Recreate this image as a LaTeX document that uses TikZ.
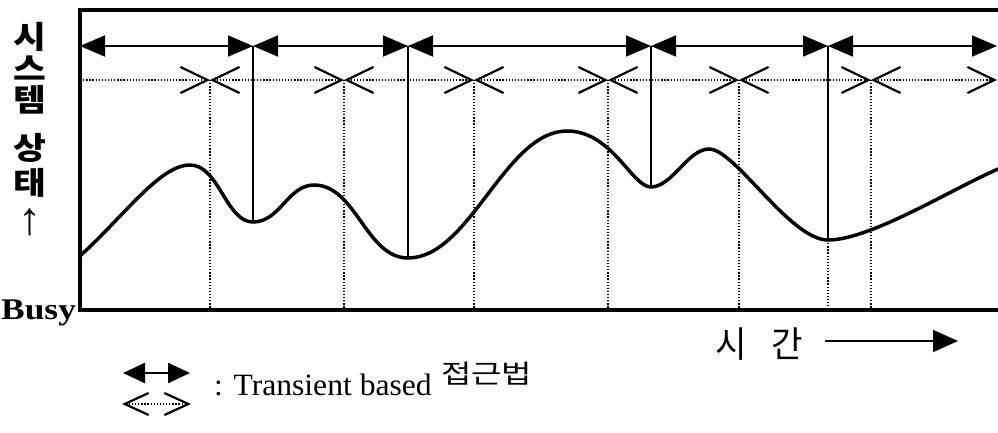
\documentclass[tikz,border=0pt]{standalone}
\usepackage{fontspec}
\setmainfont{Liberation Serif}
\newfontfamily\krsans{Noto Sans CJK KR}
\usetikzlibrary{arrows.meta}
\begin{document}
\begin{tikzpicture}[x=1pt,y=-1pt,
  frame/.style={line width=3.5pt, line join=miter},
  solidarr/.style={line width=1.8pt, {Triangle[length=25pt,width=21pt]}-{Triangle[length=25pt,width=21pt]}},
  dotline/.style={line width=1.3pt, dash pattern=on 1.3pt off 1.8pt},
  dotarr/.style={dotline, {Straight Barb[length=27pt,width=26pt,line width=2.2pt]}-{Straight Barb[length=27pt,width=26pt,line width=2.2pt]}},
  dotarrR/.style={dotline, -{Straight Barb[length=27pt,width=26pt,line width=2.2pt]}},
  vline/.style={line width=1.8pt},
  curve/.style={line width=3.5pt, line cap=round},
  lbl/.style={inner sep=0pt, font=\krsans\bfseries\fontsize{31}{31}\selectfont},
]
\useasboundingbox (0,0) rectangle (998,432);

% frame
\draw[frame] (998,10) -- (80,10) -- (80,310) -- (998,310);

% solid arrow row
\coordinate (a0) at (80,46);
\coordinate (a1) at (253,46);
\coordinate (a2) at (408,46);
\coordinate (a3) at (651,46);
\coordinate (a4) at (828,46);
\coordinate (a5) at (997,46);
\draw[solidarr] (a0) -- (a1);
\draw[solidarr] (a1) -- (a2);
\draw[solidarr] (a2) -- (a3);
\draw[solidarr] (a3) -- (a4);
\draw[solidarr] (a4) -- (a5);

% dotted arrow row
\coordinate (d0) at (80,80);
\coordinate (d1) at (210,80);
\coordinate (d2) at (344,80);
\coordinate (d3) at (474,80);
\coordinate (d4) at (608,80);
\coordinate (d5) at (739,80);
\coordinate (d6) at (871,80);
\coordinate (d7) at (997,80);
\draw[dotarrR] (d0) -- (d1);
\draw[dotarr] (d1) -- (d2);
\draw[dotarr] (d2) -- (d3);
\draw[dotarr] (d3) -- (d4);
\draw[dotarr] (d4) -- (d5);
\draw[dotarr] (d5) -- (d6);
\draw[dotarr] (d6) -- (d7);

% curve minima
\coordinate (m1) at (253,222);
\coordinate (m2) at (408,258);
\coordinate (m3) at (651,187);
\coordinate (m4) at (828,240);

% bottom points of dotted verticals
\coordinate (b1) at (210,310);
\coordinate (b2) at (344,310);
\coordinate (b3) at (474,310);
\coordinate (b4) at (608,310);
\coordinate (b5) at (739,310);
\coordinate (b6) at (871,310);
\coordinate (b7) at (828,310);

\draw[dotline] (d1) -- (b1);
\draw[dotline] (d2) -- (b2);
\draw[dotline] (d3) -- (b3);
\draw[dotline] (d4) -- (b4);
\draw[dotline] (d5) -- (b5);
\draw[dotline] (d6) -- (b6);
\draw[dotline] (m4) -- (b7);

% solid verticals
\draw[vline] (a1) -- (m1);
\draw[vline] (a2) -- (m2);
\draw[vline] (a3) -- (m3);
\draw[vline] (a4) -- (m4);

% curve
\draw[curve] (80,256) .. controls (125,215) and (160,165) .. (190,165)
  .. controls (219,165) and (226,222) .. (m1)
  .. controls (280,222) and (288,185) .. (314,185)
  .. controls (356,185) and (366,258) .. (m2)
  .. controls (470,258) and (505,131) .. (567,131)
  .. controls (612,131) and (632,187) .. (m3)
  .. controls (672,187) and (688,149) .. (709,149)
  .. controls (735,149) and (790,240) .. (m4)
  .. controls (870,240) and (950,190) .. (998,169);

% left labels
\node[lbl] (y1) at (30,37) {\scalebox{1.15}[1]{시}};
\node[lbl] (y2) at (30,68) {\scalebox{1.15}[1]{스}};
\node[lbl] (y3) at (30,100) {\scalebox{1.15}[1]{템}};
\node[lbl] (y4) at (30,148) {\scalebox{1.15}[1]{상}};
\node[lbl] (y5) at (30,183) {\scalebox{1.15}[1]{태}};
\node[inner sep=0pt, font=\fontsize{46}{46}\selectfont] (y6) at (30,222) {↑};
\node[anchor=base west, inner sep=0pt, font=\bfseries\fontsize{30}{30}\selectfont] (busy) at (1,319) {\scalebox{1.18}[1]{Busy}};

% time label
\node[inner sep=0pt, font=\krsans\fontsize{36}{36}\selectfont] (t1) at (731,344) {\scalebox{0.95}[1]{시}};
\node[inner sep=0pt, font=\krsans\fontsize{36}{36}\selectfont] (t2) at (787,344) {\scalebox{0.95}[1]{간}};
\coordinate (ta) at (825,341);
\coordinate (tb) at (958,341);
\draw[line width=1.8pt, -{Triangle[length=25pt,width=22pt]}] (ta) -- (tb);

% legend
\coordinate (l1a) at (123,373);
\coordinate (l1b) at (190,373);
\coordinate (l2a) at (122,404);
\coordinate (l2b) at (191,404);
\draw[line width=2.5pt, {Triangle[length=22pt,width=20pt]}-{Triangle[length=22pt,width=20pt]}] (l1a) -- (l1b);
\draw[dotline, line width=1.1pt, {Straight Barb[length=24pt,width=22pt,line width=2.2pt]}-{Straight Barb[length=24pt,width=22pt,line width=2.2pt]}] (l2a) -- (l2b);
\node[anchor=base west, inner sep=0pt, font=\fontsize{31}{31}\selectfont] (leg) at (214,395) {\scalebox{1.02}[1]{: Transient based}};
\node[anchor=base west, inner sep=0pt, font=\krsans\fontsize{26}{26}\selectfont] (legk) at (441,383) {\scalebox{1.27}[1]{접근법}};
\end{tikzpicture}
\end{document}
